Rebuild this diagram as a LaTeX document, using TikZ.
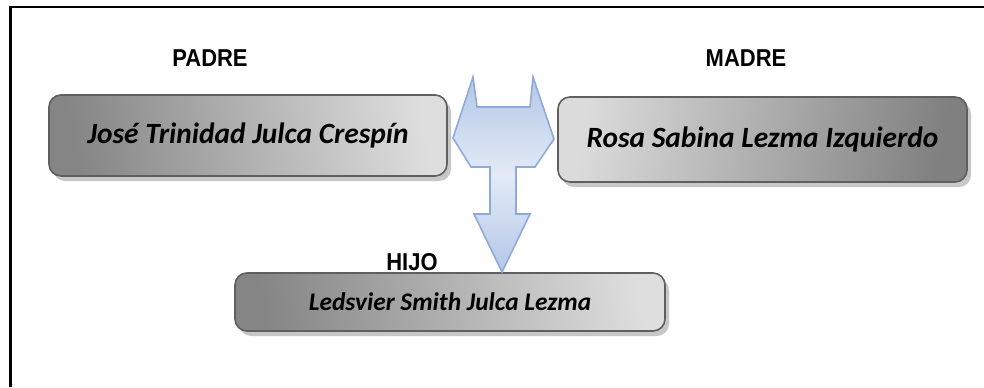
\documentclass[tikz,border=0pt]{standalone}
\usepackage{fontspec}
\newfontfamily\headfont[FakeStretch=0.9]{Liberation Sans}
\newfontfamily\namefont{Carlito}
\usetikzlibrary{shadows}
\definecolor{boxborder}{HTML}{5F5F5F}
\definecolor{arrowborder}{HTML}{8EAADB}
\definecolor{arrowlight}{HTML}{E3EAF6}
\definecolor{arrowdark}{HTML}{B4C7E7}
\tikzset{
  namebox/.style={draw=boxborder, line width=1.6bp, rounded corners=12bp,
    inner sep=0pt, drop shadow={shadow xshift=4bp, shadow yshift=-5bp, fill=black!22, opacity=1},
    font=\fontsize{29.5}{34}\selectfont\namefont\bfseries\itshape},
  headlabel/.style={font=\fontsize{24.5}{28}\selectfont\headfont\bfseries, inner sep=0pt},
}
\begin{document}
\begin{tikzpicture}[x=1bp,y=-1bp]
\useasboundingbox (0,0) rectangle (984,387);
\fill[white] (0,0) rectangle (984,387);
% frame
\draw[line width=2.8bp] (10.5,387) -- (10.5,7) -- (984,7);
% labels
\node[headlabel] (lp) at (210,58) {PADRE};
\node[headlabel] (lm) at (746,58) {MADRE};
\node[headlabel] (lh) at (412,262) {HIJO};
% boxes
\node[namebox, minimum width=398bp, minimum height=81bp,
  left color=black!48, right color=black!13, shading angle=100] (padre) at (248,135.5) {José Trinidad Julca Crespín};
\node[namebox, minimum width=409bp, minimum height=85bp,
  left color=black!14, right color=black!50, shading angle=80] (madre) at (762.5,139.5) {Rosa Sabina Lezma Izquierdo};
\node[namebox, minimum width=430bp, minimum height=58bp,
  left color=black!48, right color=black!13, shading angle=100,
  font=\fontsize{25.5}{30}\selectfont\namefont\bfseries\itshape] (hijo) at (450,302) {Ledsvier Smith Julca Lezma};
% T arrow
\draw[draw=arrowborder, line width=1.6bp, line join=miter, top color=arrowdark, bottom color=arrowdark, middle color=arrowlight]
  (473,77) -- (477,107) -- (530,107) -- (533,77) -- (554,139) -- (535,167)
  -- (516,167) -- (516,214) -- (530,214) -- (502,272) -- (474,214)
  -- (490,214) -- (490,167) -- (471,167) -- (453,138) -- cycle;
\end{tikzpicture}
\end{document}
